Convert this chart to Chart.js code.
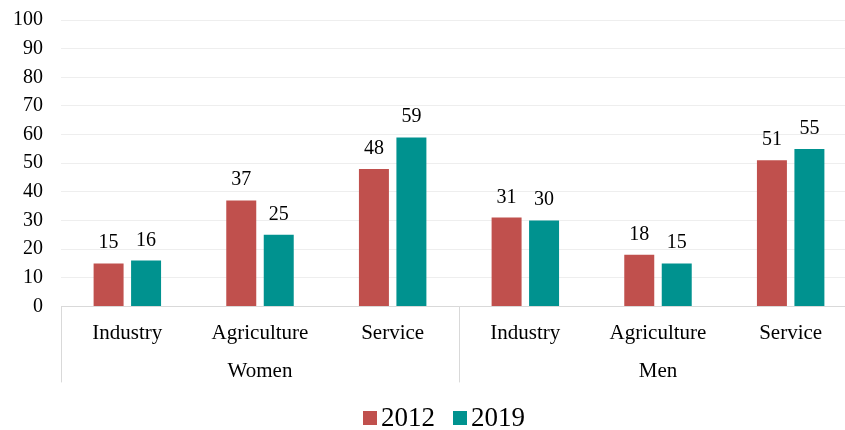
<!DOCTYPE html>
<html>
<head>
<meta charset="utf-8">
<script src="https://cdn.jsdelivr.net/npm/chart.js@4/dist/chart.umd.min.js"></script>
<style>
  html, body { margin: 0; padding: 0; background: #fff; overflow: hidden; }
  #wrap { width: 860px; height: 430px; }
</style>
</head>
<body>
<div id="wrap"><canvas id="barChart"></canvas></div>
<script>
const categories = ['Industry', 'Agriculture', 'Service'];
const groups = ['Women', 'Men'];
const years = ['2012', '2019'];
const values2012 = [15, 37, 48, 31, 18, 51];
const values2019 = [16, 25, 59, 30, 15, 55];
const yTicks = [0, 10, 20, 30, 40, 50, 60, 70, 80, 90, 100];

// two-line labels: the group name sits under the middle category of each group
const labels = groups.flatMap(g => categories.map((c, i) =>
    i === Math.floor(categories.length / 2) ? [c, g] : [c, '']));

const serif = 'Liberation Serif';

// value labels over each bar
const barValues = {
    id: 'barValues',
    afterDatasetsDraw(chart) {
        const ctx = chart.ctx;
        ctx.save();
        ctx.font = '20px "' + serif + '"';
        ctx.fillStyle = '#000';
        ctx.textAlign = 'center';
        ctx.textBaseline = 'alphabetic';
        chart.data.datasets.forEach((ds, di) => {
            chart.getDatasetMeta(di).data.forEach((bar, i) => {
                ctx.fillText(ds.data[i], bar.x, bar.y - 15);
            });
        });
        ctx.restore();
    }
};

// vertical dividers between the Women / Men groups
const groupDividers = {
    id: 'groupDividers',
    afterDraw(chart) {
        const xs = chart.scales.x;
        const ctx = chart.ctx;
        const step = (xs.right - xs.left) / labels.length;
        ctx.save();
        ctx.strokeStyle = '#d9d9d9';
        ctx.lineWidth = 1;
        for (let g = 0; g <= groups.length; g++) {
            const x = Math.round(xs.left + g * categories.length * step) + 0.5;
            ctx.beginPath();
            ctx.moveTo(x, xs.top);
            ctx.lineTo(x, xs.top + 76);
            ctx.stroke();
        }
        ctx.restore();
    }
};

// compact legend under the axis: square swatch right next to the year
const yearLegend = {
    id: 'yearLegend',
    afterDraw(chart) {
        const ctx = chart.ctx;
        const box = 14, gap = 4, spacing = 18;
        const centerX = 444, boxTop = 411;
        ctx.save();
        ctx.font = '27px "' + serif + '"';
        ctx.textBaseline = 'alphabetic';
        ctx.textAlign = 'left';
        const items = chart.data.datasets.map(ds => ({
            text: ds.label, color: ds.backgroundColor, w: ctx.measureText(ds.label).width
        }));
        const total = items.reduce((s, it) => s + box + gap + it.w, 0) + spacing * (items.length - 1);
        let x = centerX - total / 2;
        items.forEach(it => {
            ctx.fillStyle = it.color;
            ctx.fillRect(x, boxTop, box, box);
            ctx.fillStyle = '#000';
            ctx.fillText(it.text, x + box + gap, boxTop + 15);
            x += box + gap + it.w + spacing;
        });
        ctx.restore();
    }
};

const ctx1 = document.getElementById('barChart').getContext('2d');
const barChart = new Chart(ctx1, {
    type: 'bar',
    data: {
        labels: labels,
        datasets: [{
            label: years[0],
            data: values2012,
            backgroundColor: '#C0504D',
            categoryPercentage: 0.565,
            barPercentage: 0.8
        }, {
            label: years[1],
            data: values2019,
            backgroundColor: '#00928F',
            categoryPercentage: 0.565,
            barPercentage: 0.8
        }]
    },
    options: {
        responsive: true,
        maintainAspectRatio: false,
        animation: false,
        layout: { padding: { top: 20, left: 13, right: 3, bottom: 40 } },
        scales: {
            x: {
                grid: { display: false },
                border: { display: true, color: '#d9d9d9', width: 1 },
                ticks: {
                    color: '#000',
                    font: { family: serif, size: 21, lineHeight: 1.8 },
                    padding: 0,
                    maxRotation: 0,
                    autoSkip: false
                }
            },
            y: {
                min: 0,
                max: 100,
                afterBuildTicks(scale) {
                    scale.ticks = yTicks.map(v => ({ value: v }));
                },
                afterFit(scale) {
                    scale.width = 48;
                    scale.paddingTop = 0;
                    scale.paddingBottom = 0;
                },
                grid: { color: '#eeeeee', drawTicks: false },
                border: { display: false },
                ticks: {
                    color: '#000',
                    font: { family: serif, size: 20 },
                    padding: 18,
                    autoSkip: false
                }
            }
        },
        plugins: {
            legend: { display: false },
            tooltip: { enabled: false }
        }
    },
    plugins: [barValues, groupDividers, yearLegend]
});
</script>
</body>
</html>
